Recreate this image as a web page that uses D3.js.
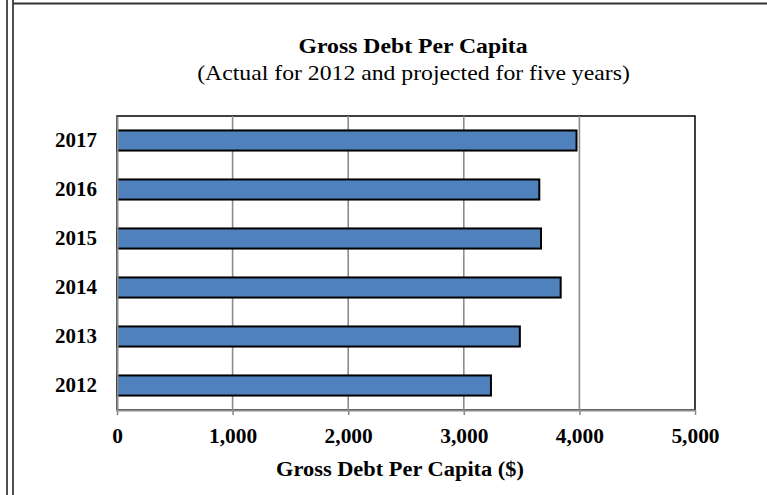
<!DOCTYPE html>
<html>
<head>
<meta charset="utf-8">
<script src="https://cdn.jsdelivr.net/npm/d3@7/dist/d3.min.js"></script>
<style>
  html, body { margin: 0; padding: 0; background: #fff; }
  svg { display: block; font-family: "Liberation Serif", "Times New Roman", serif; }
</style>
</head>
<body>
<svg id="chart" width="767" height="495"></svg>
<script>
// Gross debt per capita, in dollars
const years = ["2012", "2013", "2014", "2015", "2016", "2017"];
const debtPerCapita = [3235, 3485, 3838, 3668, 3653, 3975];
const xTicks = [0, 1000, 2000, 3000, 4000, 5000];

const titleText = "Gross Debt Per Capita";
const subtitleText = "(Actual for 2012 and projected for five years)";
const xAxisTitle = "Gross Debt Per Capita ($)";

const svg = d3.select("#chart");
const W = 767, H = 495;
const plot = { left: 117, right: 695, top: 116, bottom: 410 };

// page frame: double rule on the left, single rule along the top
svg.append("line").attr("x1", 7).attr("x2", 7).attr("y1", 0).attr("y2", H)
  .attr("stroke", "#222").attr("stroke-width", 1.6);
svg.append("line").attr("x1", 13).attr("x2", 13).attr("y1", 0).attr("y2", H)
  .attr("stroke", "#222").attr("stroke-width", 1.6);
svg.append("line").attr("x1", 13).attr("x2", W).attr("y1", 3.5).attr("y2", 3.5)
  .attr("stroke", "#333").attr("stroke-width", 2);

const x = d3.scaleLinear().domain([0, 5000]).range([plot.left, plot.right]);
const y = d3.scaleBand().domain(years.slice().reverse())
  .range([plot.top, plot.bottom]).paddingInner(0.59).paddingOuter(0.295);

// plot frame
svg.append("rect")
  .attr("x", plot.left).attr("y", plot.top)
  .attr("width", plot.right - plot.left).attr("height", plot.bottom - plot.top)
  .attr("fill", "#fff").attr("stroke", "#000").attr("stroke-width", 1.5);

// vertical gridlines
svg.append("g").selectAll("line")
  .data(xTicks.filter(t => t > 0 && t < 5000))
  .join("line")
  .attr("x1", d => x(d)).attr("x2", d => x(d))
  .attr("y1", plot.top).attr("y2", plot.bottom)
  .attr("stroke", "#8c8c8c").attr("stroke-width", 1.6);

// bars
svg.append("g").selectAll("rect")
  .data(years.map((yr, i) => ({ yr, v: debtPerCapita[i] })))
  .join("rect")
  .attr("x", x(0))
  .attr("y", d => y(d.yr))
  .attr("width", d => x(d.v) - x(0))
  .attr("height", y.bandwidth())
  .attr("fill", "#4f81bd")
  .attr("stroke", "#000")
  .attr("stroke-width", 2);

// x axis
const xAxis = svg.append("g")
  .attr("transform", `translate(0,${plot.bottom})`)
  .call(d3.axisBottom(x).tickValues(xTicks).tickFormat(d3.format(",")).tickSize(5).tickSizeOuter(0));
xAxis.select(".domain").attr("stroke", "#8c8c8c").attr("stroke-width", 2);
xAxis.selectAll(".tick line").attr("stroke", "#8c8c8c").attr("stroke-width", 1.6);
xAxis.selectAll(".tick text")
  .attr("y", 0).attr("dy", 0)
  .attr("transform", "translate(0,33) scale(1.045,1)")
  .attr("fill", "#000")
  .style("font-family", "'Liberation Serif', serif")
  .style("font-size", "20.5px").style("font-weight", "bold");

// y axis
const yAxis = svg.append("g")
  .attr("transform", `translate(${plot.left},0)`)
  .call(d3.axisLeft(y).tickSize(0).tickPadding(19));
yAxis.select(".domain").attr("stroke", "#8c8c8c").attr("stroke-width", 2);
yAxis.selectAll(".tick text")
  .attr("transform", "scale(1.05,1)")
  .attr("fill", "#000")
  .style("font-family", "'Liberation Serif', serif")
  .style("font-size", "20px").style("font-weight", "bold");

// titles (set slightly wide)
svg.append("text").attr("transform", "translate(413,53) scale(1.13,1)").attr("text-anchor", "middle")
  .style("font-size", "21px").style("font-weight", "bold").text(titleText);
svg.append("text").attr("transform", "translate(413.5,80) scale(1.13,1)").attr("text-anchor", "middle")
  .style("font-size", "21px").text(subtitleText);
svg.append("text").attr("transform", "translate(400,476) scale(1.067,1)").attr("text-anchor", "middle")
  .style("font-size", "21px").style("font-weight", "bold").text(xAxisTitle);
</script>
</body>
</html>
